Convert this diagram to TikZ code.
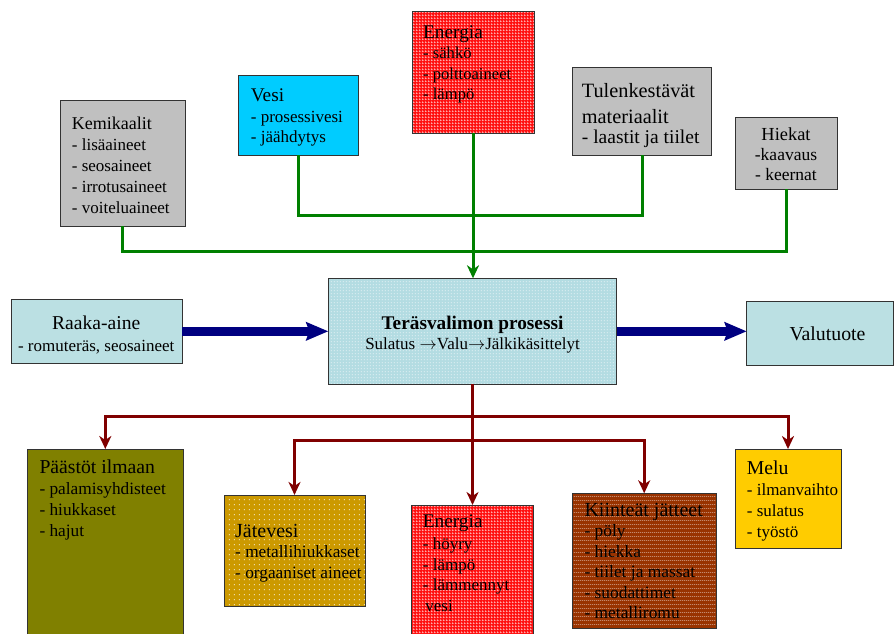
\documentclass[tikz,border=0pt]{standalone}
\usepackage{fontspec}
\setmainfont{Liberation Serif}
\usetikzlibrary{arrows.meta,patterns}

% fill textures
\pgfdeclarepatternformonly{firegrid}{\pgfqpoint{0pt}{0pt}}{\pgfqpoint{2.5pt}{2.5pt}}{\pgfqpoint{2.5pt}{2.5pt}}{%
  \pgfpathrectangle{\pgfqpoint{0pt}{0pt}}{\pgfqpoint{2.5pt}{0.55pt}}%
  \pgfpathrectangle{\pgfqpoint{0pt}{0pt}}{\pgfqpoint{0.55pt}{2.5pt}}%
  \pgfusepath{fill}}
\pgfdeclarepatternformonly{finedots}{\pgfqpoint{0pt}{0pt}}{\pgfqpoint{3pt}{3pt}}{\pgfqpoint{3pt}{3pt}}{%
  \pgfpathrectangle{\pgfqpoint{1pt}{1pt}}{\pgfqpoint{1pt}{1pt}}%
  \pgfusepath{fill}}
\pgfdeclarepatternformonly{sparsedots}{\pgfqpoint{0pt}{0pt}}{\pgfqpoint{5.3pt}{5.3pt}}{\pgfqpoint{5.3pt}{5.3pt}}{%
  \pgfpathrectangle{\pgfqpoint{2pt}{2pt}}{\pgfqpoint{1.1pt}{1.1pt}}%
  \pgfusepath{fill}}
\pgfdeclarepatternformonly{dotrows}{\pgfqpoint{0pt}{0pt}}{\pgfqpoint{2.2pt}{3.6pt}}{\pgfqpoint{2.2pt}{3.6pt}}{%
  \pgfpathrectangle{\pgfqpoint{0.4pt}{1.4pt}}{\pgfqpoint{1.1pt}{0.8pt}}%
  \pgfusepath{fill}}

\definecolor{boxgray}{HTML}{C0C0C0}
\definecolor{watercyan}{HTML}{00CCFF}
\definecolor{paleblue}{HTML}{BBE0E3}
\definecolor{procblue}{HTML}{B3DCE2}
\definecolor{olivebox}{HTML}{808000}
\definecolor{ochre}{HTML}{CC9900}
\definecolor{rust}{HTML}{993300}
\definecolor{amber}{HTML}{FFCC00}
\definecolor{firered}{HTML}{FF1010}
\definecolor{feedgreen}{HTML}{008000}
\definecolor{wastered}{HTML}{800000}
\definecolor{flownavy}{HTML}{000080}
\definecolor{edge}{HTML}{333333}

\newcommand\leftlines[1]{\begin{tabular}[t]{@{}l@{}}#1\end{tabular}}
\newcommand\midlines[1]{\begin{tabular}[t]{@{}c@{}}#1\end{tabular}}
\newcommand\boxhead[2]{{\fontsize{#1}{#1}\selectfont #2}}
\newcommand\stagearrow{\ensuremath{\rightarrow}}

\tikzset{
  box/.style={draw=edge, line width=0.8pt, inner sep=0pt, outer sep=0pt},
  firebox/.style={box, preaction={fill=firered}, pattern=firegrid, pattern color=white},
  procbox/.style={box, preaction={fill=procblue}, pattern=finedots, pattern color=white},
  ochrebox/.style={box, preaction={fill=ochre}, pattern=sparsedots, pattern color=white},
  rustbox/.style={box, preaction={fill=rust}, pattern=dotrows, pattern color=white},
  txt/.style={anchor=base west, inner sep=0pt},
  ctxt/.style={anchor=base, inner sep=0pt},
  feed/.style={draw=feedgreen, line width=3pt},
  waste/.style={draw=wastered, line width=3pt},
  tip/.style={-{Stealth[length=13pt,width=12pt,inset=4pt]}},
  flow/.style={draw=flownavy, line width=8.5pt, -{Stealth[length=22pt,width=18pt,inset=3pt]}}
}

\begin{document}
\begin{tikzpicture}[x=1pt, y=-1pt]
\useasboundingbox (0,0) rectangle (894,633);

% inputs
\node[box, fill=boxgray, minimum width=125pt, minimum height=126pt] (kem) at (122.5,163) {};
\node[txt, font=\fontsize{17}{21}\selectfont] (kemtxt) at (71.7,129)
  {\leftlines{\boxhead{18}{Kemikaalit}\\- lisäaineet\\- seosaineet\\- irrotusaineet\\- voiteluaineet}};

\node[box, fill=watercyan, minimum width=120pt, minimum height=80pt] (vesi) at (298,115) {};
\node[txt, font=\fontsize{17}{20.5}\selectfont] (vesitxt) at (250.7,101.7)
  {\leftlines{\boxhead{19.3}{Vesi}\\- prosessivesi\\- jäähdytys}};

\node[firebox, minimum width=122pt, minimum height=122pt] (enet) at (473,72) {};
\node[txt, font=\fontsize{16.6}{20.3}\selectfont] (enettxt) at (423,38.5)
  {\leftlines{\boxhead{19.3}{Energia}\\- sähkö\\- polttoaineet\\- lämpö}};

\node[box, fill=boxgray, minimum width=139pt, minimum height=87.5pt] (tulen) at (642.2,111.3) {};
\node[txt, font=\fontsize{19.5}{20}\selectfont] (tulentxt) at (581.7,97)
  {\leftlines{\boxhead{20.3}{Tulenkestävät}\\[6.5pt]\boxhead{20.3}{materiaalit}\\- laastit ja tiilet}};

\node[box, fill=boxgray, minimum width=102pt, minimum height=72pt] (hiek) at (786,153) {};
\node[ctxt, font=\fontsize{17.5}{20}\selectfont] (hiektxt) at (786,140)
  {\midlines{\boxhead{18.4}{Hiekat}\\-kaavaus\\- keernat}};

% main line
\node[procbox, minimum width=288.4pt, minimum height=106pt] (proc) at (472.5,331.3) {};
\node[ctxt, font=\fontsize{17}{20}\selectfont] (proctxt) at (472.5,329.3)
  {\midlines{\boxhead{19.3}{\bfseries Teräsvalimon prosessi}\\Sulatus \stagearrow Valu\stagearrow Jälkikäsittelyt}};

\node[box, fill=paleblue, minimum width=171.3pt, minimum height=64pt] (raaka) at (96.7,331.3) {};
\node[ctxt, font=\fontsize{17}{22.4}\selectfont] (raakatxt) at (96.2,329.3)
  {\midlines{\boxhead{19.6}{Raaka-aine}\\- romuteräs, seosaineet}};

\node[box, fill=paleblue, minimum width=146.6pt, minimum height=63.3pt] (valu) at (820,333.3) {};
\node[ctxt, font=\fontsize{19.8}{20}\selectfont] (valutxt) at (827.5,340.7) {Valutuote};

% outputs
\node[box, fill=olivebox, minimum width=156pt, minimum height=192pt] (paas) at (105.3,545) {};
\node[txt, font=\fontsize{17.3}{20.6}\selectfont] (paastxt) at (39.3,473.3)
  {\leftlines{\boxhead{19.7}{Päästöt ilmaan}\\[1pt]- palamisyhdisteet\\- hiukkaset\\- hajut}};

\node[ochrebox, minimum width=141pt, minimum height=111.7pt] (jate) at (294.5,550.8) {};
\node[txt, font=\fontsize{17.3}{20.5}\selectfont] (jatetxt) at (235,537.3)
  {\leftlines{\boxhead{20}{Jätevesi}\\- metallihiukkaset\\- orgaaniset aineet}};

\node[firebox, minimum width=121.6pt, minimum height=136pt] (eneb) at (472.5,573) {};
\node[txt, font=\fontsize{17}{20.5}\selectfont] (enebtxt) at (422.7,527.7)
  {\leftlines{\boxhead{19.3}{Energia}\\[1.5pt]- höyry\\- lämpö\\- lämmennyt\\\hspace{2.5pt}vesi}};

\node[rustbox, minimum width=143.7pt, minimum height=135pt] (kiin) at (644.2,560.8) {};
\node[txt, font=\fontsize{17.4}{20.5}\selectfont] (kiintxt) at (584.3,516)
  {\leftlines{\boxhead{20}{Kiinteät jätteet}\\- pöly\\- hiekka\\- tiilet ja massat\\- suodattimet\\- metalliromu}};

\node[box, fill=amber, minimum width=106pt, minimum height=99.3pt] (melu) at (788,498.7) {};
\node[txt, font=\fontsize{17}{20.6}\selectfont] (melutxt) at (746.7,474.3)
  {\leftlines{\boxhead{19.7}{Melu}\\[1pt]- ilmanvaihto\\- sulatus\\- työstö}};

% feed lines into the process
\coordinate (gbusA) at (473,251);
\coordinate (gbusB) at (473,215);
\draw[feed] (kem.south) |- (gbusA) -| (hiek.south);
\draw[feed] (vesi.south) |- (gbusB) -| (tulen.south);
\draw[feed, tip] (enet.south) -- (enet.south |- proc.north);

% material flow
\draw[flow] (raaka.east) -- (raaka.east -| proc.west);
\draw[flow] (proc.east) -- (proc.east -| valu.west);

% emissions and wastes
\coordinate (rbusA) at (472.5,416);
\coordinate (rbusB) at (472.5,440);
\draw[waste, tip] (rbusA) -| (paas.north);
\draw[waste, tip] (rbusA) -| (melu.north);
\draw[waste, tip] (rbusB) -| (jate.north);
\draw[waste, tip] (rbusB) -| (kiin.north);
\draw[waste, tip] (proc.south) -- (eneb.north);
\end{tikzpicture}
\end{document}
